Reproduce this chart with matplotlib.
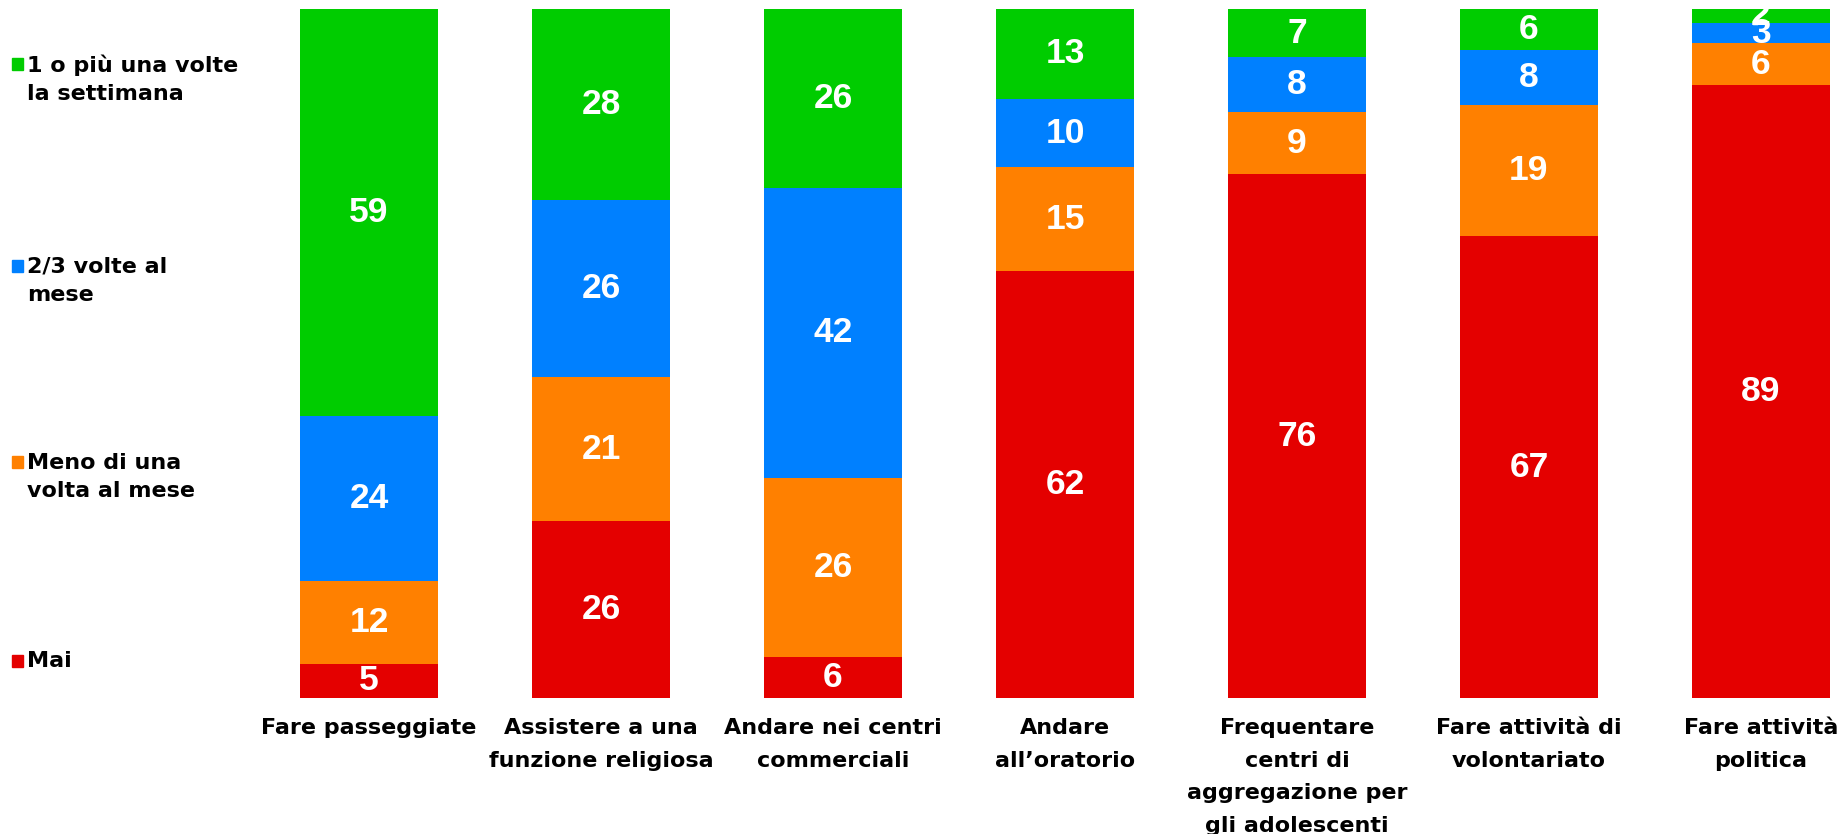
import matplotlib
matplotlib.use("Agg")
import matplotlib.pyplot as plt
from matplotlib.patches import Rectangle
import numpy as np

plt.rcParams['font.family'] = ['DejaVu Sans']

categories = ["Fare passeggiate", "Assistere a una\nfunzione religiosa",
              "Andare nei centri\ncommerciali", "Andare\nall\u2019oratorio",
              "Frequentare\ncentri di\naggregazione per\ngli adolescenti",
              "Fare attività di\nvolontariato", "Fare attività\npolitica"]
series_names = ["Mai", "Meno di una\nvolta al mese", "2/3 volte al\nmese",
                "1 o più una volte\nla settimana"]
mai = [5, 26, 6, 62, 76, 67, 89]
meno = [12, 21, 26, 15, 9, 19, 6]
due_tre = [24, 26, 42, 10, 8, 8, 3]
settimana = [59, 28, 26, 13, 7, 6, 2]
colors = ["#E40000", "#FF8000", "#0080FF", "#00CC00"]

W, H = 1839, 834
fig = plt.figure(figsize=(W / 100, H / 100), dpi=100)
xmin, xmax = -0.8, (W - 369) / 232
ax = fig.add_axes([183.4 / W, (H - 698) / H, (W - 183.4) / W, 689 / H])

data = np.array([mai, meno, due_tre, settimana], dtype=float)
totals = data.sum(axis=0)
pct = data / totals * 100
x = np.arange(len(categories))
bottom = np.zeros(len(categories))
for vals, raw, col in zip(pct, data, colors):
    ax.bar(x, vals, bottom=bottom, width=0.595, color=col, edgecolor='none')
    for xi, b, v, r in zip(x, bottom, vals, raw):
        ax.text(xi, b + v / 2, f"{int(r)}", ha='center', va='center',
                color='white', fontsize=25.5, fontweight='bold',
                family='Liberation Sans', fontstretch='normal', clip_on=False)
    bottom += vals

ax.set_xlim(xmin, xmax)
ax.set_ylim(0, 100)
ax.set_yticks([])
ax.set_xticks(x)
ax.set_xticklabels(categories, fontsize=16, fontweight='bold', linespacing=1.78,
                   family=['DejaVu Sans'])
ax.tick_params(axis='x', length=0, pad=14.5)
for s in ax.spines.values():
    s.set_visible(False)

# legend (top to bottom: green, blue, orange, red)
legend_y = [79, 281, 477, 661]
for name, col, yy in zip(series_names[::-1], colors[::-1], legend_y):
    fy = 1 - yy / H
    first_line_offset = 15 if "\n" in name else 0
    sq_y = 1 - (yy - first_line_offset) / H
    fig.patches.append(Rectangle((12 / W, sq_y - 6 / H), 11 / W, 12 / H,
                                 transform=fig.transFigure, color=col))
    fig.text(27 / W, fy, name, ha='left', va='center', fontsize=16,
             fontweight='bold', linespacing=1.52, family=['DejaVu Sans'])

fig.savefig("out.png", dpi=100)
